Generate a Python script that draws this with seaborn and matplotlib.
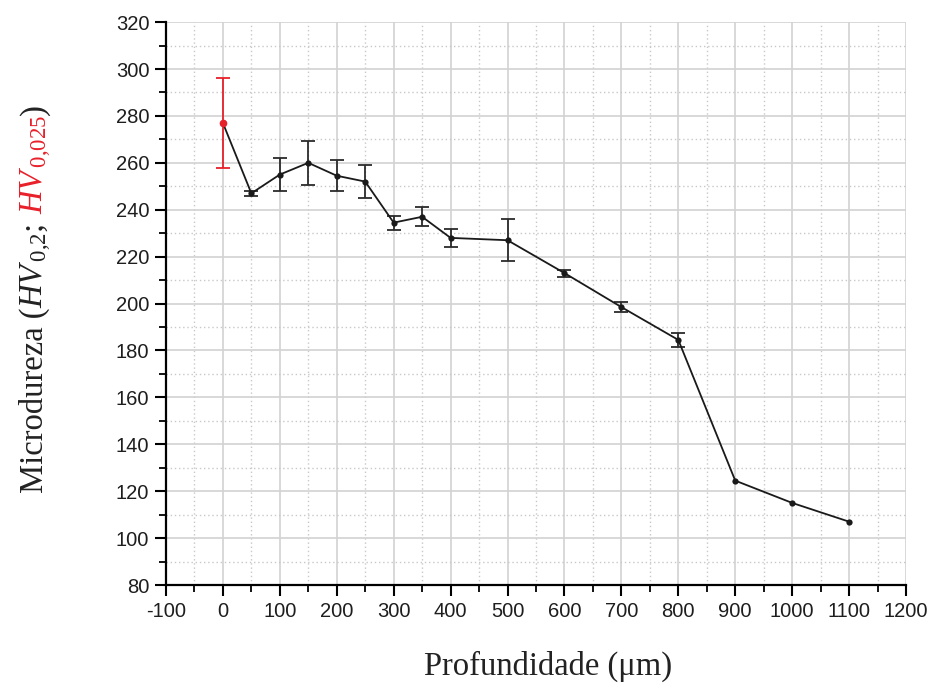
import numpy as np
import pandas as pd
import matplotlib
matplotlib.use("Agg")
import matplotlib.pyplot as plt
import seaborn as sns
from matplotlib.ticker import MultipleLocator

depth = [0, 50, 100, 150, 200, 250, 300, 350, 400, 500, 600, 700, 800, 900, 1000, 1100]
hardness = [277, 247, 255, 260, 254.5, 252, 234.5, 237, 228, 227, 213, 198.5, 184.5, 124.5, 115, 107]
err = [19, 1, 7, 9.5, 6.5, 7, 3, 4, 4, 9, 1.5, 2, 3, 0, 0, 0]

df = pd.DataFrame({"depth": depth, "hardness": hardness, "err": err})

sns.set_theme(style="white")
plt.rcParams["font.family"] = ["Liberation Sans", "DejaVu Sans"]
plt.rcParams["axes.unicode_minus"] = False
plt.rcParams["mathtext.fontset"] = "custom"
plt.rcParams["mathtext.rm"] = "Liberation Serif"
plt.rcParams["mathtext.it"] = "Liberation Serif:italic"

fig = plt.figure(figsize=(9.35, 6.91), dpi=100)
ax = fig.add_axes([0.1775, 0.1534, 0.7915, 0.8146])

# grid
ax.set_axisbelow(True)
ax.xaxis.set_major_locator(MultipleLocator(100))
ax.xaxis.set_minor_locator(MultipleLocator(50))
ax.yaxis.set_major_locator(MultipleLocator(20))
ax.yaxis.set_minor_locator(MultipleLocator(10))
ax.grid(which="major", color="#d2d2d2", linewidth=1.2, linestyle="-")
ax.grid(which="minor", color="#c8c8c8", linewidth=1.0, linestyle=(0, (1, 2)))

sub = df[(df.index > 0) & (df["err"] > 0)]
ax.errorbar(sub["depth"], sub["hardness"], yerr=sub["err"], fmt="none",
            ecolor="#2b2b2b", elinewidth=1.3, capsize=5, capthick=1.3, zorder=3)
first = df.iloc[:1]
ax.errorbar(first["depth"], first["hardness"], yerr=first["err"], fmt="none",
            ecolor="#e8202a", elinewidth=1.3, capsize=5, capthick=1.3, zorder=3)

sns.lineplot(data=df, x="depth", y="hardness", ax=ax, color="#1a1a1a",
             linewidth=1.3, marker="o", markersize=4.5, markeredgewidth=0,
             markerfacecolor="#1a1a1a", zorder=4)
ax.plot(first["depth"], first["hardness"], marker="o", markersize=4.5,
        color="#e8202a", linestyle="none", zorder=5)

ax.set_xlim(-100, 1200)
ax.set_ylim(80, 320)
ax.set_xticks(np.arange(-100, 1201, 100))
ax.set_yticks(np.arange(80, 321, 20))

for s in ["top", "right"]:
    ax.spines[s].set_visible(False)
for s in ["left", "bottom"]:
    ax.spines[s].set_color("black")
    ax.spines[s].set_linewidth(1.6)

ax.tick_params(which="major", direction="out", length=8, width=1.5, color="black",
               labelsize=14.5, labelcolor="#1e1e1e", left=True, bottom=True, pad=4)
ax.tick_params(which="minor", direction="out", length=5, width=1.3, color="black",
               left=True, bottom=True)
ax.set_xlabel("")
ax.set_ylabel("")

fig.text(0.586, 1 - 675 / 691, "Profundidade (\u03bcm)", ha="center", va="baseline",
         fontsize=23.5, family="Liberation Serif", color="#222222")

# multi-colored rotated y label
pieces = [("Microdureza (", "#222222"),
          (r"$\mathit{HV}_{\,\mathrm{0{,}2}}$", "#222222"),
          ("; ", "#222222"),
          (r"$\mathit{HV}_{\,\mathrm{0{,}025}}$", "#e8202a"),
          (")", "#222222")]
fig.canvas.draw()
renderer = fig.canvas.get_renderer()
xb = 43 / 935
y = 1 - 493 / 691
for txt, col in pieces:
    t = fig.text(xb, y, txt, rotation=90, rotation_mode="anchor", ha="left",
                 va="baseline", fontsize=23.5, family="Liberation Serif", color=col)
    bb = t.get_window_extent(renderer=renderer)
    y += bb.height / fig.bbox.height

fig.savefig("out.png", dpi=100)
